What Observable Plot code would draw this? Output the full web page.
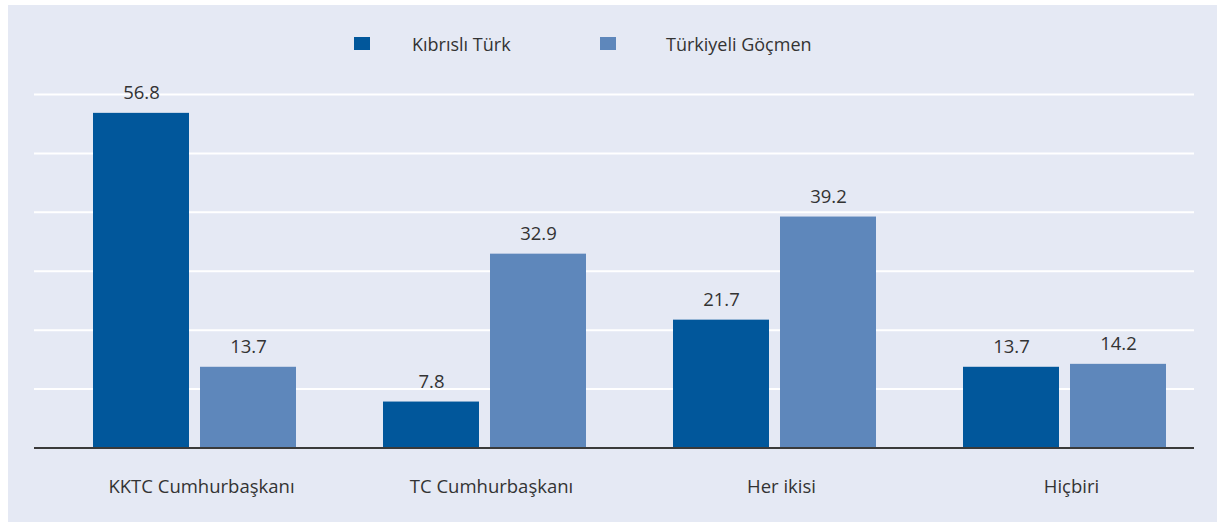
<!DOCTYPE html>
<html>
<head>
<meta charset="utf-8">
<script src="https://cdn.jsdelivr.net/npm/d3@7"></script>
<script src="https://cdn.jsdelivr.net/npm/@observablehq/plot@0.6"></script>
<style>
  html, body { margin: 0; padding: 0; background: #ffffff; }
  #frame { position: absolute; left: 8px; top: 5px; width: 1209px; height: 517px; background: #e5e9f4; font-family: "Open Sans", sans-serif; color: #333333; }
  #legend { position: relative; height: 65px; }
  .sw { position: absolute; top: 32px; width: 16px; height: 13px; }
  .lt { position: absolute; top: 30px; font-size: 18px; line-height: 18px; white-space: nowrap; color: #333333; }
  #chart svg { display: block; }
</style>
</head>
<body>
<div id="frame">
  <div id="legend"></div>
  <div id="chart"></div>
</div>
<script>
// ---- data ----
const categories = ["KKTC Cumhurbaşkanı", "TC Cumhurbaşkanı", "Her ikisi", "Hiçbiri"];
const series = ["Kıbrıslı Türk", "Türkiyeli Göçmen"];
const kibrisliTurk = [56.8, 7.8, 21.7, 13.7];
const turkiyeliGocmen = [13.7, 32.9, 39.2, 14.2];
const yTicks = [10, 20, 30, 40, 50, 60];

// ---- styles ----
const colors = ["#01579b", "#5e87bb"];
const font = "'Open Sans', sans-serif";

const rows = [];
categories.forEach((c, i) => {
  rows.push({category: c, series: series[0], value: kibrisliTurk[i]});
  rows.push({category: c, series: series[1], value: turkiyeliGocmen[i]});
});

// legend
const legend = document.getElementById("legend");
const legendPos = [{sw: 346, tx: 404}, {sw: 592, tx: 658}];
series.forEach((s, i) => {
  const sw = document.createElement("div");
  sw.className = "sw";
  sw.style.left = legendPos[i].sw + "px";
  sw.style.background = colors[i];
  legend.appendChild(sw);
  const t = document.createElement("div");
  t.className = "lt";
  t.style.left = legendPos[i].tx + "px";
  t.textContent = s;
  legend.appendChild(t);
});

const chart = Plot.plot({
  width: 1209,
  height: 452,
  marginLeft: 25,
  marginRight: 23,
  marginTop: 24,
  marginBottom: 74.5,
  style: {background: "transparent", fontFamily: font, fontSize: "18px", color: "#333333"},
  fx: {domain: categories, padding: 0, axis: null, label: null},
  x: {domain: series, axis: null, paddingInner: 0.106, paddingOuter: 0.396, align: 0.67},
  y: {domain: [0, 60], axis: null},
  color: {domain: series, range: colors},
  marks: [
    Plot.gridY(yTicks, {stroke: "#ffffff", strokeOpacity: 1, strokeWidth: 2}),
    Plot.barY(rows, {fx: "category", x: "series", y: "value", fill: "series"}),
    Plot.text(rows, {fx: "category", x: "series", y: "value", text: d => d.value.toFixed(1), lineAnchor: "middle", dy: -20, fontSize: 18.5, fill: "#333333"}),
    Plot.ruleY([0], {stroke: "#3a3a3a", strokeWidth: 2}),
    Plot.axisFx({domain: categories, anchor: "bottom", label: null, tickSize: 0, tickPadding: 32, dx: 22, fontSize: 18.5, fill: "#333333"})
  ]
});
document.getElementById("chart").appendChild(chart);
</script>
</body>
</html>
